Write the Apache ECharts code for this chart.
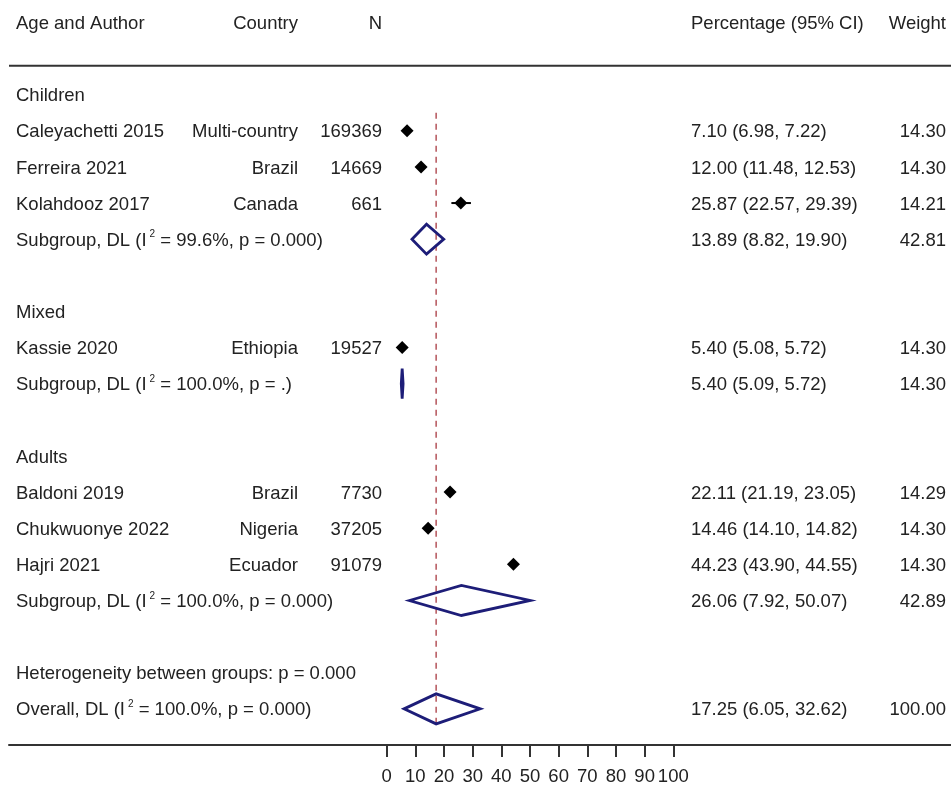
<!DOCTYPE html>
<html>
<head>
<meta charset="utf-8">
<script src="https://cdn.jsdelivr.net/npm/echarts@6/dist/echarts.min.js"></script>
<style>
html,body{margin:0;padding:0;background:#fff;}
#chart{width:951px;height:786px;}
</style>
</head>
<body>
<div id="chart"></div>
<script>
// ---------------- DATA ----------------
const headers = ['Age and Author', 'Country', 'N', 'Percentage (95% CI)', 'Weight'];
const groupNames = ['Children', 'Mixed', 'Adults'];
const authors = ['Caleyachetti 2015', 'Ferreira 2021', 'Kolahdooz 2017', 'Kassie 2020', 'Baldoni 2019', 'Chukwuonye 2022', 'Hajri 2021'];
const countries = ['Multi-country', 'Brazil', 'Canada', 'Ethiopia', 'Brazil', 'Nigeria', 'Ecuador'];
const sampleN = [169369, 14669, 661, 19527, 7730, 37205, 91079];
const studyGroup = [0, 0, 0, 1, 2, 2, 2];
const estimate = [7.10, 12.00, 25.87, 5.40, 22.11, 14.46, 44.23];
const ciLow = [6.98, 11.48, 22.57, 5.08, 21.19, 14.10, 43.90];
const ciHigh = [7.22, 12.53, 29.39, 5.72, 23.05, 14.82, 44.55];
const weights = [14.30, 14.30, 14.21, 14.30, 14.29, 14.30, 14.30];

const subEst = [13.89, 5.40, 26.06];
const subLow = [8.82, 5.09, 7.92];
const subHigh = [19.90, 5.72, 50.07];
const subI2 = ['99.6%', '100.0%', '100.0%'];
const subP = ['0.000', '.', '0.000'];
const subWeight = [42.81, 14.30, 42.89];

const heterogeneityP = '0.000';
const overallEst = 17.25, overallLow = 6.05, overallHigh = 32.62;
const overallI2 = '100.0%', overallP = '0.000', overallWeight = 100.00;

const xTicks = [0, 10, 20, 30, 40, 50, 60, 70, 80, 90, 100];

// ---------------- LAYOUT (pixels) ----------------
const FONT = '"Liberation Sans", Arial, sans-serif';
const FS = 18.5;
const TEXT_COLOR = '#222222';
const NAVY = '#1d1d78';
const X0_PX = 386.7, X100_PX = 673.3;          // where 0 and 100 sit
const GRID_LEFT = 9, GRID_RIGHT_PX = 951;
const PX_PER_UNIT = (X100_PX - X0_PX) / 100;
const XMIN = (GRID_LEFT - X0_PX) / PX_PER_UNIT;
const XMAX = 100 + (GRID_RIGHT_PX - X100_PX) / PX_PER_UNIT;
const COL = {author: 16, country: 298, n: 382, pct: 691, weight: 946};
const TEXT_DY = 1.5;

// ---------------- BUILD ROWS ----------------
const fmt2 = v => v.toFixed(2);
const ciText = (e, l, h) => `${fmt2(e)} (${fmt2(l)}, ${fmt2(h)})`;
const items = [];
let row = -2;
items.push({kind: 'header', row: row});
row = 0;
groupNames.forEach((g, gi) => {
  items.push({kind: 'group', row: row++, label: g});
  studyGroup.forEach((sg, i) => {
    if (sg === gi) items.push({kind: 'study', row: row++, i: i});
  });
  items.push({kind: 'sub', row: row++, g: gi});
  row++; // blank
});
items.push({kind: 'hetero', row: row++});
items.push({kind: 'overall', row: row++});
items.push({kind: 'refline', row: 0});

function txt(x, y, text, align, extra) {
  return {
    type: 'text',
    style: Object.assign({
      text: text, x: x, y: y + TEXT_DY, align: align || 'left', verticalAlign: 'middle',
      fill: TEXT_COLOR, fontSize: FS, fontFamily: FONT
    }, extra || {})
  };
}
function richLabel(x, y, prefix, i2, p) {
  return txt(x, y, `${prefix} (I{sup|2} = ${i2}, p = ${p})`, 'left', {
    lineHeight: 22,
    rich: {
      sup: {fontSize: 10, fontFamily: FONT, fill: TEXT_COLOR, verticalAlign: 'top', lineHeight: 10, padding: [0, 0, 0, 3]}
    }
  });
}
function diamondOutline(api, lo, est, hi, r) {
  const c = api.coord([est, r]);
  const l = api.coord([lo, r]);
  const h = api.coord([hi, r]);
  const hh = 15;
  return {
    type: 'polygon',
    shape: {points: [[l[0], c[1]], [c[0], c[1] - hh], [h[0], c[1]], [c[0], c[1] + hh]]},
    style: {fill: 'none', stroke: NAVY, lineWidth: 2.8, lineJoin: 'miter'}
  };
}

function renderItem(params, api) {
  const it = items[params.dataIndex];
  const cs = params.coordSys;
  const y = api.coord([0, it.row])[1];
  const children = [];
  if (it.kind === 'header') {
    children.push(txt(COL.author, y, headers[0], 'left'));
    children.push(txt(COL.country, y, headers[1], 'right'));
    children.push(txt(COL.n, y, headers[2], 'right'));
    children.push(txt(COL.pct, y, headers[3], 'left'));
    children.push(txt(COL.weight, y, headers[4], 'right'));
    const ry = api.coord([0, -0.8])[1];
    children.push({type: 'line', shape: {x1: cs.x, y1: ry, x2: cs.x + cs.width, y2: ry},
      style: {stroke: '#333', lineWidth: 2}});
  } else if (it.kind === 'group') {
    children.push(txt(COL.author, y, it.label, 'left'));
  } else if (it.kind === 'study') {
    const i = it.i;
    children.push(txt(COL.author, y, authors[i], 'left'));
    children.push(txt(COL.country, y, countries[i], 'right'));
    children.push(txt(COL.n, y, String(sampleN[i]), 'right'));
    children.push(txt(COL.pct, y, ciText(estimate[i], ciLow[i], ciHigh[i]), 'left'));
    children.push(txt(COL.weight, y, fmt2(weights[i]), 'right'));
    const l = api.coord([ciLow[i], it.row]), h = api.coord([ciHigh[i], it.row]), c = api.coord([estimate[i], it.row]);
    children.push({type: 'line', shape: {x1: l[0], y1: y, x2: h[0], y2: y}, style: {stroke: '#000', lineWidth: 2}});
    const s = 6.5;
    children.push({type: 'polygon', shape: {points: [[c[0] - s, y], [c[0], y - s], [c[0] + s, y], [c[0], y + s]]},
      style: {fill: '#000'}});
  } else if (it.kind === 'sub') {
    const g = it.g;
    children.push(richLabel(COL.author, y, 'Subgroup, DL', subI2[g], subP[g]));
    children.push(txt(COL.pct, y, ciText(subEst[g], subLow[g], subHigh[g]), 'left'));
    children.push(txt(COL.weight, y, fmt2(subWeight[g]), 'right'));
    children.push(diamondOutline(api, subLow[g], subEst[g], subHigh[g], it.row));
  } else if (it.kind === 'hetero') {
    children.push(txt(COL.author, y, `Heterogeneity between groups: p = ${heterogeneityP}`, 'left'));
  } else if (it.kind === 'overall') {
    children.push(richLabel(COL.author, y, 'Overall, DL', overallI2, overallP));
    children.push(txt(COL.pct, y, ciText(overallEst, overallLow, overallHigh), 'left'));
    children.push(txt(COL.weight, y, fmt2(overallWeight), 'right'));
    children.push(diamondOutline(api, overallLow, overallEst, overallHigh, it.row));
  } else if (it.kind === 'refline') {
    const a = api.coord([overallEst, 0.5]), b = api.coord([overallEst, 17.45]);
    children.push({type: 'line', z2: -1, shape: {x1: a[0], y1: a[1], x2: b[0], y2: b[1]},
      style: {stroke: '#b4545a', lineWidth: 1.5, lineDash: [6, 5]}});
  }
  return {type: 'group', children: children};
}

const chart = echarts.init(document.getElementById('chart'), null, {renderer: 'canvas'});
chart.setOption({
  animation: false,
  backgroundColor: '#fff',
  grid: {left: GRID_LEFT, right: 0, top: 22.4, bottom: 786 - 748.4, containLabel: false},
  xAxis: {
    type: 'value', min: XMIN, max: XMAX, position: 'bottom',
    axisLine: {show: true, onZero: false, lineStyle: {color: '#333', width: 2}},
    axisTick: {show: true, customValues: xTicks, length: 12, lineStyle: {color: '#333', width: 2}},
    axisLabel: {show: true, customValues: xTicks, margin: 22, fontSize: FS, fontFamily: FONT, color: TEXT_COLOR},
    splitLine: {show: false}
  },
  yAxis: {
    type: 'value', min: -2, max: 18, inverse: true, show: false,
    splitLine: {show: false}
  },
  series: [{
    type: 'custom',
    clip: false,
    renderItem: renderItem,
    data: items.map((it, k) => [0, it.row, k]),
    encode: {x: 0, y: 1}
  }]
});
</script>
</body>
</html>
